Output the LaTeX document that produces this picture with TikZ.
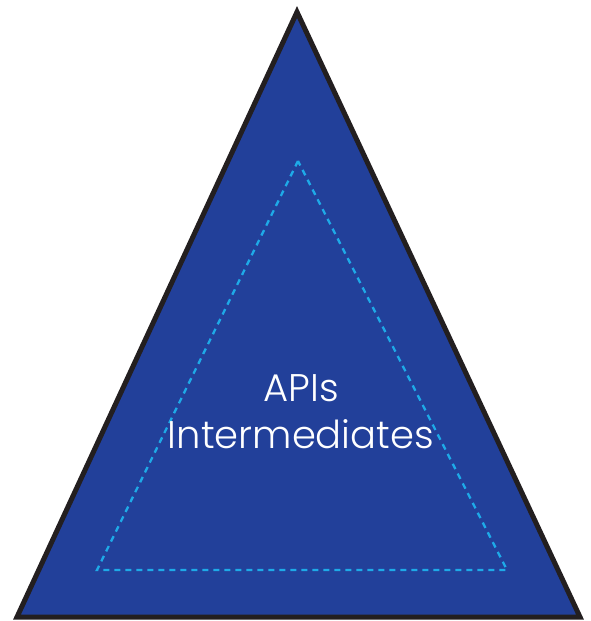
\documentclass[tikz,border=0pt]{standalone}
\usepackage{fontspec}
\newfontfamily\labelfont{Poppins}[UprightFont={* Light}]
\definecolor{pyrblue}{HTML}{22409A}
\definecolor{dashblue}{HTML}{1EAAE8}
\definecolor{edgeblack}{HTML}{231F20}
\tikzset{
  outertri/.style={fill=pyrblue, draw=edgeblack, line width=5pt, line join=miter},
  innertri/.style={draw=dashblue, line width=2.3pt, dash pattern=on 6pt off 5pt},
  lbl/.style={text=white, font=\labelfont\fontsize{38.5}{47}\selectfont, align=center}
}
\begin{document}
\begin{tikzpicture}[x=1pt,y=-1pt]
\useasboundingbox (0,0) rectangle (590,621);
\coordinate (A) at (297,12);
\coordinate (B) at (17,617);
\coordinate (C) at (580,617);
\draw[outertri] (A) -- (B) -- (C) -- cycle;
\coordinate (a) at (298,161);
\coordinate (b) at (97,570);
\coordinate (c) at (507,570);
\draw[innertri] (a) -- (b) -- (c) -- cycle;
\node[lbl] (t) at (301,412) {APIs\\Intermediates};
\end{tikzpicture}
\end{document}
